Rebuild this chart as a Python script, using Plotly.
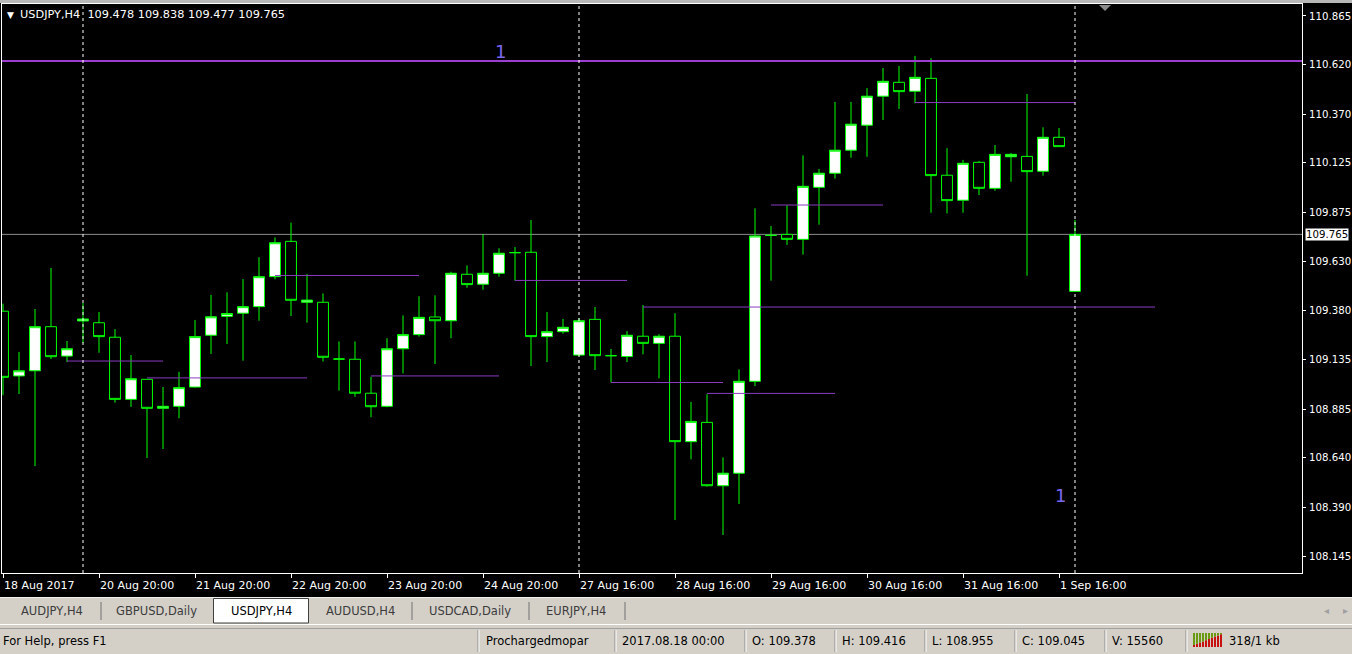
import plotly.graph_objects as go

# ---------------- data ----------------
candle_idx = list(range(68))
opens = [109.378, 109.052, 109.078, 109.300, 109.152, 109.329, 109.320, 109.247, 108.934, 109.035,
         108.889, 108.899, 108.996, 109.257, 109.352, 109.368, 109.401, 109.552, 109.730, 109.423,
         109.423, 109.137, 109.136, 108.965, 108.899, 109.189, 109.260, 109.349, 109.330, 109.564,
         109.514, 109.569, 109.673, 109.675, 109.250, 109.275, 109.157, 109.337, 109.154, 109.150,
         109.252, 109.216, 109.252, 108.721, 108.818, 108.499, 108.562, 109.025, 109.760, 109.765,
         109.740, 110.002, 110.073, 110.189, 110.315, 110.461, 110.531, 110.486, 110.551, 110.063,
         109.937, 110.128, 109.997, 110.156, 110.158, 110.083, 110.254, 109.478]
highs = [109.416, 109.173, 109.389, 109.596, 109.228, 109.419, 109.374, 109.288, 109.157, 109.036,
         108.996, 109.073, 109.334, 109.460, 109.473, 109.540, 109.650, 109.750, 109.824, 109.565,
         109.468, 109.226, 109.226, 109.048, 109.242, 109.357, 109.453, 109.458, 109.577, 109.609,
         109.767, 109.695, 109.701, 109.837, 109.374, 109.339, 109.344, 109.399, 109.188, 109.278,
         109.409, 109.262, 109.368, 108.921, 108.960, 108.642, 109.085, 109.896, 109.807, 109.912,
         110.163, 110.094, 110.432, 110.432, 110.502, 110.603, 110.613, 110.664, 110.652, 110.199,
         110.140, 110.135, 110.215, 110.175, 110.472, 110.304, 110.301, 109.838]
lows = [108.955, 108.961, 108.598, 109.137, 109.122, 109.218, 109.169, 108.917, 108.896, 108.639,
        108.684, 108.839, 108.993, 109.163, 109.213, 109.129, 109.330, 109.539, 109.354, 109.320,
        109.124, 108.978, 108.947, 108.844, 108.894, 109.065, 109.250, 109.112, 109.242, 109.496,
        109.486, 109.552, 109.532, 109.102, 109.122, 109.265, 109.152, 109.082, 109.019, 109.122,
        109.161, 109.040, 108.326, 108.632, 108.495, 108.251, 108.407, 109.001, 109.532, 109.712,
        109.663, 109.814, 110.046, 110.151, 110.156, 110.341, 110.397, 110.425, 109.874, 109.871,
        109.874, 109.963, 109.985, 110.030, 109.557, 110.061, 110.207, 109.477]
closes = [109.045, 109.078, 109.300, 109.149, 109.189, 109.339, 109.250, 108.934, 109.038, 108.889,
          108.899, 108.993, 109.250, 109.350, 109.366, 109.401, 109.552, 109.723, 109.433, 109.434,
          109.146, 109.137, 108.965, 108.897, 109.189, 109.260, 109.347, 109.330, 109.569, 109.512,
          109.569, 109.670, 109.673, 109.250, 109.275, 109.297, 109.330, 109.154, 109.154, 109.257,
          109.216, 109.252, 108.721, 108.823, 108.499, 108.562, 109.025, 109.757, 109.760, 109.740,
          110.007, 110.073, 110.189, 110.320, 110.461, 110.536, 110.484, 110.556, 110.061, 109.935,
          110.123, 109.997, 110.168, 110.168, 110.081, 110.254, 110.207, 109.765]

xtick_idx = [0, 6, 12, 18, 24, 30, 36, 42, 48, 54, 60, 66]
xtick_text = ["18 Aug 2017", "20 Aug 20:00", "21 Aug 20:00", "22 Aug 20:00", "23 Aug 20:00",
              "24 Aug 20:00", "27 Aug 16:00", "28 Aug 16:00", "29 Aug 16:00", "30 Aug 16:00",
              "31 Aug 16:00", "1 Sep 16:00"]

ytick_vals = [110.865, 110.620, 110.370, 110.125, 109.875, 109.630, 109.380, 109.135,
              108.885, 108.640, 108.390, 108.145]
ytick_text = ["110.865", "110.620", "110.370", "110.125", "109.875", "109.630", "109.380",
              "109.135", "108.885", "108.640", "108.390", "108.145"]

level_start = [4, 9, 17, 23, 32, 38, 40, 44, 48, 57]
level_end = [10, 19, 26, 31, 39, 45, 72, 52, 55, 67]
level_price = [109.127, 109.042, 109.558, 109.052, 109.533, 109.019, 109.399, 108.964, 109.913, 110.429]

hline_price = 110.638
current_price = 109.765
separator_idx = [5, 36, 67]

symbol_title = "USDJPY,H4"
title_ohlc = "109.478 109.838 109.477 109.765"

tab_names = ["AUDJPY,H4", "GBPUSD,Daily", "USDJPY,H4", "AUDUSD,H4", "USDCAD,Daily", "EURJPY,H4"]
active_tab = 2
status_texts = ["For Help, press F1", "Prochargedmopar", "2017.08.18 00:00", "O: 109.378",
                "H: 109.416", "L: 108.955", "C: 109.045", "V: 15560", "318/1 kb"]

# ---------------- layout geometry ----------------
W, H = 1352, 654
ML, MR, MT, MB = 2, 50, 4, 81
PW, PH = W - ML - MR, H - MT - MB
FONT = "DejaVu Sans"


def xp(px):
    return (px - ML) / PW


def yp(py):
    return (H - MB - py) / PH


fig = go.Figure()

# indicator level segments
seg_x, seg_y = [], []
for s, e, p in zip(level_start, level_end, level_price):
    seg_x += [s, e, None]
    seg_y += [p, p, None]
fig.add_trace(go.Scatter(x=seg_x, y=seg_y, mode="lines", line=dict(color="#8a3cc0", width=1),
                         hoverinfo="skip", showlegend=False))

fig.add_trace(go.Candlestick(
    x=candle_idx, open=opens, high=highs, low=lows, close=closes,
    increasing=dict(line=dict(color="#00ff00", width=1), fillcolor="#ffffff"),
    decreasing=dict(line=dict(color="#00ff00", width=1), fillcolor="#000000"),
    whiskerwidth=0, showlegend=False, hoverinfo="skip"))

shapes = []
annotations = []

# current price line
shapes.append(dict(type="line", xref="paper", x0=0, x1=1, yref="y", y0=current_price, y1=current_price,
                   line=dict(color="#8c8c8c", width=1), layer="below"))
# horizontal line object
shapes.append(dict(type="line", xref="paper", x0=0, x1=1, yref="y", y0=hline_price, y1=hline_price,
                   line=dict(color="#9c3fd0", width=2)))
# weekly separators
for s in separator_idx:
    shapes.append(dict(type="line", xref="x", x0=s, x1=s, yref="paper", y0=0, y1=1,
                       line=dict(color="#ffffff", width=1, dash="3px,3px")))

# chart shift marker
shapes.append(dict(type="path", xref="paper", yref="paper",
                   path=f"M {xp(1099)} {yp(5)} L {xp(1111)} {yp(5)} L {xp(1105)} {yp(11)} Z",
                   fillcolor="#8a8a8a", line=dict(width=0)))

# top window strip
shapes.append(dict(type="rect", xref="paper", yref="paper", x0=xp(0), x1=xp(W), y0=yp(0), y1=yp(3),
                   fillcolor="#b8b8b8", line=dict(width=0)))

# tab bar and status bar
shapes.append(dict(type="rect", xref="paper", yref="paper", x0=xp(0), x1=xp(W), y0=yp(597), y1=yp(H),
                   fillcolor="#d4d0c8", line=dict(width=0)))
shapes.append(dict(type="line", xref="paper", yref="paper", x0=xp(0), x1=xp(W), y0=yp(597.5), y1=yp(597.5),
                   line=dict(color="#f0f0f0", width=1)))
shapes.append(dict(type="line", xref="paper", yref="paper", x0=xp(0), x1=xp(W), y0=yp(624.5), y1=yp(624.5),
                   line=dict(color="#ffffff", width=1)))
shapes.append(dict(type="line", xref="paper", yref="paper", x0=xp(0), x1=xp(W), y0=yp(628.5), y1=yp(628.5),
                   line=dict(color="#a0a0a0", width=1)))

tab_centers = [52, 156, 261, 360, 470, 576]
tab_seps = [101, 412, 529, 625]
for sx in tab_seps:
    shapes.append(dict(type="line", xref="paper", yref="paper", x0=xp(sx), x1=xp(sx), y0=yp(602), y1=yp(620),
                       line=dict(color="#707070", width=1)))
shapes.append(dict(type="rect", xref="paper", yref="paper", x0=xp(213.5), x1=xp(308.5), y0=yp(598.5), y1=yp(623),
                   fillcolor="#ffffff", line=dict(color="#404040", width=1)))
for i, (name, cx) in enumerate(zip(tab_names, tab_centers)):
    annotations.append(dict(xref="paper", yref="paper", x=xp(cx), y=yp(611), text=name, showarrow=False,
                            xanchor="center", yanchor="middle",
                            font=dict(family=FONT, size=11.5, color="#000000" if i == active_tab else "#3c3c3c")))
for t, cx in zip(["\u25c2", "\u25b8"], [1326, 1345]):
    annotations.append(dict(xref="paper", yref="paper", x=xp(cx), y=yp(610), text=t, showarrow=False,
                            xanchor="center", yanchor="middle", font=dict(family=FONT, size=10, color="#a0a0a0")))

status_x = [1, 484, 620, 750, 840, 930, 1020, 1110, 1227]
status_seps = [478, 615, 745, 835, 925, 1015, 1105, 1186]
for sx in status_seps:
    shapes.append(dict(type="line", xref="paper", yref="paper", x0=xp(sx), x1=xp(sx), y0=yp(630), y1=yp(652),
                       line=dict(color="#8c8c8c", width=1)))
    shapes.append(dict(type="line", xref="paper", yref="paper", x0=xp(sx + 1), x1=xp(sx + 1), y0=yp(630), y1=yp(652),
                       line=dict(color="#ffffff", width=1)))
for t, sx in zip(status_texts, status_x):
    annotations.append(dict(xref="paper", yref="paper", x=xp(sx), y=yp(641), text=t, showarrow=False,
                            xanchor="left", yanchor="middle", font=dict(family=FONT, size=11.5, color="#000000")))

# connection icon
for k in range(10):
    x0 = 1193 + 3 * k
    red_top = 645 - 1.2 * k
    shapes.append(dict(type="rect", xref="paper", yref="paper", x0=xp(x0), x1=xp(x0 + 2), y0=yp(647), y1=yp(red_top),
                       fillcolor="#c81010", line=dict(width=0)))
    shapes.append(dict(type="rect", xref="paper", yref="paper", x0=xp(x0), x1=xp(x0 + 2), y0=yp(red_top), y1=yp(633),
                       fillcolor="#6a9a10", line=dict(width=0)))

# header
annotations.append(dict(xref="paper", yref="paper", x=xp(5), y=yp(15), text="\u25bc", showarrow=False,
                        xanchor="left", yanchor="middle", font=dict(family=FONT, size=9, color="#ffffff")))
annotations.append(dict(xref="paper", yref="paper", x=xp(18), y=yp(15),
                        text=symbol_title + "&nbsp;&nbsp;" + title_ohlc, showarrow=False,
                        xanchor="left", yanchor="middle", font=dict(family=FONT, size=11.3, color="#ffffff")))

# "1" labels of the line objects
annotations.append(dict(xref="paper", yref="paper", x=xp(500), y=yp(52), text="1", showarrow=False,
                        xanchor="center", yanchor="middle", font=dict(family=FONT, size=18, color="#7b68ee")))
annotations.append(dict(xref="paper", yref="paper", x=xp(1060), y=yp(495), text="1", showarrow=False,
                        xanchor="center", yanchor="middle", font=dict(family=FONT, size=18, color="#7b68ee")))

# time labels (left aligned at tick)
for xi, t in zip(xtick_idx, xtick_text):
    annotations.append(dict(xref="x", yref="paper", x=xi, y=yp(585), text=t, showarrow=False,
                            xanchor="left", yanchor="middle", xshift=-1,
                            font=dict(family=FONT, size=11, color="#ffffff")))

# current price label
annotations.append(dict(xref="paper", yref="y", x=xp(1305), y=current_price, text="109.765", showarrow=False,
                        xanchor="left", yanchor="middle", bgcolor="#ffffff", borderpad=0,
                        font=dict(family=FONT, size=10.2, color="#000000")))

fig.update_layout(
    width=W, height=H,
    margin=dict(l=ML, r=MR, t=MT, b=MB, pad=0, autoexpand=False),
    paper_bgcolor="#000000", plot_bgcolor="#000000",
    showlegend=False,
    boxgap=0.32, boxgroupgap=0.0,
    shapes=shapes, annotations=annotations,
    xaxis=dict(range=[-0.0625, 81.1875], showgrid=False, zeroline=False, showline=True, mirror=True,
               linecolor="#ffffff", linewidth=1, tickvals=xtick_idx, ticks="outside", ticklen=4,
               tickcolor="#ffffff", showticklabels=False, rangeslider=dict(visible=False), fixedrange=True,
               automargin=False),
    yaxis=dict(range=[108.0594, 110.9254], side="right", showgrid=False, zeroline=False, showline=True,
               mirror=True, linecolor="#ffffff", linewidth=1, tickvals=ytick_vals, ticktext=ytick_text,
               ticks="outside", ticklen=3, tickcolor="#ffffff", ticklabelstandoff=1,
               tickfont=dict(family=FONT, size=10.2, color="#ffffff"), fixedrange=True, automargin=False),
)

fig.write_html("out.html", config={"displayModeBar": False})

# remove the default page margin so the figure sits at the window's top-left corner
with open("out.html", "r", encoding="utf-8") as fh:
    page = fh.read()
page = page.replace("<head>", "<head><style>html,body{margin:0;padding:0;overflow:hidden;background:#000;}</style>", 1)
with open("out.html", "w", encoding="utf-8") as fh:
    fh.write(page)
